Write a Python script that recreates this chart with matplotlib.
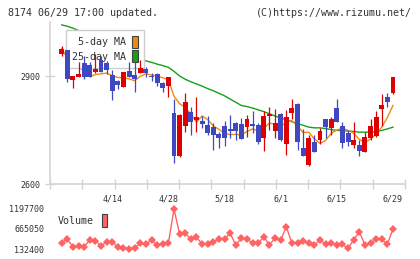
import numpy as np
import matplotlib.pyplot as plt
from matplotlib.patches import Patch

# daily prices, 4/1 .. 6/29 (60 trading days)
opens = [2960, 2972, 2889, 2896, 2935, 2931, 2912, 2944, 2935, 2903,
         2887, 2870, 2914, 2903, 2907, 2919, 2901, 2906, 2880, 2873,
         2798, 2678, 2761, 2801, 2778, 2776, 2764, 2759, 2739, 2761,
         2753, 2770, 2767, 2759, 2767, 2764, 2729, 2789, 2748, 2794,
         2710, 2798, 2822, 2699, 2653, 2718, 2722, 2781, 2755, 2810,
         2761, 2743, 2708, 2708, 2690, 2728, 2734, 2808, 2841, 2854]
highs = [2983, 2972, 2900, 2940, 2956, 2940, 2961, 2956, 2943, 2917,
         2889, 2911, 2940, 2940, 2944, 2926, 2909, 2909, 2884, 2898,
         2836, 2794, 2854, 2813, 2841, 2790, 2790, 2769, 2744, 2775,
         2792, 2772, 2784, 2792, 2803, 2769, 2804, 2813, 2807, 2798,
         2806, 2836, 2825, 2753, 2736, 2736, 2755, 2781, 2787, 2836,
         2773, 2750, 2773, 2722, 2745, 2780, 2803, 2850, 2854, 2897]
lows = [2956, 2884, 2868, 2896, 2892, 2896, 2907, 2911, 2905, 2833,
        2863, 2869, 2897, 2856, 2907, 2898, 2886, 2872, 2856, 2841,
        2659, 2674, 2745, 2736, 2745, 2755, 2736, 2694, 2701, 2706,
        2727, 2722, 2726, 2730, 2741, 2710, 2692, 2750, 2729, 2720,
        2681, 2781, 2694, 2678, 2651, 2690, 2711, 2727, 2736, 2773,
        2699, 2706, 2699, 2679, 2690, 2722, 2731, 2762, 2813, 2850]
closes = [2975, 2892, 2900, 2906, 2898, 2896, 2919, 2912, 2917, 2859,
          2875, 2910, 2898, 2892, 2921, 2909, 2896, 2881, 2868, 2896,
          2679, 2792, 2829, 2773, 2785, 2767, 2743, 2736, 2729, 2729,
          2748, 2748, 2726, 2781, 2761, 2718, 2789, 2794, 2770, 2722,
          2785, 2810, 2718, 2679, 2729, 2690, 2747, 2759, 2781, 2773,
          2713, 2718, 2722, 2692, 2731, 2761, 2785, 2819, 2829, 2896]
ma5 = [2976, 2950, 2935, 2925, 2914, 2898, 2904, 2906, 2908, 2901,
       2896, 2895, 2892, 2887, 2899, 2906, 2903, 2900, 2895, 2890,
       2844, 2823, 2813, 2794, 2772, 2789, 2779, 2761, 2752, 2741,
       2737, 2738, 2736, 2746, 2753, 2747, 2755, 2769, 2766, 2759,
       2772, 2776, 2761, 2743, 2744, 2725, 2713, 2721, 2741, 2750,
       2755, 2749, 2741, 2724, 2715, 2725, 2738, 2758, 2785, 2818]
ma25 = [3042, 3038, 3033, 3026, 3019, 3012, 3004, 2996, 2988, 2980,
        2972, 2964, 2957, 2951, 2946, 2942, 2938, 2933, 2929, 2924,
        2913, 2900, 2891, 2884, 2878, 2872, 2865, 2859, 2852, 2845,
        2836, 2827, 2818, 2815, 2811, 2806, 2801, 2795, 2789, 2783,
        2779, 2773, 2768, 2763, 2758, 2756, 2756, 2754, 2751, 2749,
        2748, 2747, 2746, 2744, 2744, 2744, 2745, 2749, 2753, 2758]
volume = [300000, 399000, 194000, 212000, 194000, 372000, 354000, 212000, 327000, 327000,
          194000, 167000, 132400, 167000, 284000, 266000, 372000, 239000, 257000, 284000,
          1197700, 532000, 550000, 390000, 444000, 266000, 266000, 327000, 399000, 399000,
          550000, 239000, 417000, 399000, 284000, 284000, 460000, 239000, 433000, 372000,
          726000, 284000, 284000, 345000, 284000, 239000, 372000, 257000, 284000, 239000,
          257000, 151000, 372000, 593000, 239000, 284000, 390000, 390000, 257000, 665000]
tick_labels = ['4/14', '4/28', '5/18', '6/1', '6/15', '6/29']
tick_days = [9, 19, 29, 39, 49, 59]
price_ticks = [2600, 2900]
vol_ticks = [132400, 665050, 1197700]

RED = '#dd0000'
BLUE = '#3f48c0'
ORANGE = '#f08a10'
GREEN = '#16a016'
VOLC = '#ff6464'
AXC = '#d4d4d4'
TXT = '#333333'
MONO = 'DejaVu Sans Mono'

plt.rcParams['font.family'] = MONO

W, H = 420, 259
fig = plt.figure(figsize=(W / 100, H / 100), dpi=100)

# price panel
ax = fig.add_axes([50 / W, (H - 184) / H, 355 / W, 162 / H])
x = np.arange(len(closes))
o = np.array(opens)
c = np.array(closes)
up = c >= o
cols = np.where(up, RED, BLUE)
bottom = np.minimum(o, c)
height = np.maximum(np.abs(c - o), 2.5)

ax.plot(x, ma25, color=GREEN, lw=1.0, zorder=2)
ax.plot(x, ma5, color=ORANGE, lw=1.0, zorder=2)
ax.vlines(x, lows, highs, colors=cols, lw=0.9, zorder=3)
ax.bar(x, height, bottom=bottom, width=0.88, color=cols, linewidth=0, zorder=3)

ax.set_xlim(-2.08, 61.14)
ax.set_ylim(2600, 3050)
for s in ['top', 'right']:
    ax.spines[s].set_visible(False)
for s in ['left', 'bottom']:
    ax.spines[s].set_color(AXC)
    ax.spines[s].set_linewidth(1.2)

ax.set_yticks(price_ticks)
ax.tick_params(axis='y', direction='inout', length=7, width=1, color=AXC,
               labelsize=6, labelcolor=TXT, pad=3.5)
ax.set_xticks(tick_days)
ax.set_xticklabels(tick_labels)
ax.tick_params(axis='x', which='major', length=0, labelsize=6,
               labelcolor=TXT, pad=7.5)
ax.set_xticks(np.linspace(-2.08, 61.14, 12), minor=True)
ax.tick_params(axis='x', which='minor', direction='inout', length=7,
               width=1, color=AXC)

handles = [Patch(facecolor=ORANGE, edgecolor='#404040', linewidth=0.8),
           Patch(facecolor=GREEN, edgecolor='#404040', linewidth=0.8)]
leg = ax.legend(handles, ['5-day MA', '25-day MA'], loc='upper left',
                bbox_to_anchor=(65.7 / W, 1 - 30 / H),
                bbox_transform=fig.transFigure, borderaxespad=0,
                markerfirst=False, fancybox=False, framealpha=1,
                edgecolor='#cccccc', prop={'family': MONO, 'size': 7.2},
                handlelength=0.6, handleheight=1.5, handletextpad=0.6,
                labelspacing=0.2, borderpad=0.6)
leg.get_frame().set_linewidth(1.0)
for t in leg.get_texts():
    t.set_color(TXT)
leg.set_zorder(2.5)

# volume panel
vax = fig.add_axes([50 / W, (H - 253) / H, 355 / W, 48 / H])
vax.plot(x, volume, color=VOLC, lw=1.0, marker='D', ms=4.3,
         markeredgewidth=0, clip_on=False)
vax.set_xlim(-2.08, 61.14)
vax.set_ylim(25872, 1304228)
for s in vax.spines.values():
    s.set_visible(False)
vax.set_xticks([])
vax.set_yticks(vol_ticks)
vax.set_yticklabels([str(v) for v in vol_ticks])
vax.tick_params(axis='y', length=0, labelsize=6, labelcolor=TXT, pad=4.3)
vax.patch.set_alpha(0)

vleg = vax.legend([Patch(facecolor=VOLC, edgecolor='#404040', linewidth=0.8)],
                  ['Volume'], loc='center left',
                  bbox_to_anchor=(58 / W, 1 - 220.5 / H),
                  bbox_transform=fig.transFigure, borderaxespad=0,
                  borderpad=0, frameon=False, markerfirst=False,
                  prop={'family': MONO, 'size': 7.2},
                  handlelength=0.56, handleheight=1.5, handletextpad=0.75)
for t in vleg.get_texts():
    t.set_color(TXT)

fig.text(8 / W, 1 - 13.5 / H, '8174 06/29 17:00 updated.', ha='left',
         va='center', size=7.2, color=TXT, family=MONO)
fig.text(412 / W, 1 - 13.5 / H, '(C)https://www.rizumu.net/', ha='right',
         va='center', size=7.2, color=TXT, family=MONO)

fig.savefig('out.png', dpi=100)
